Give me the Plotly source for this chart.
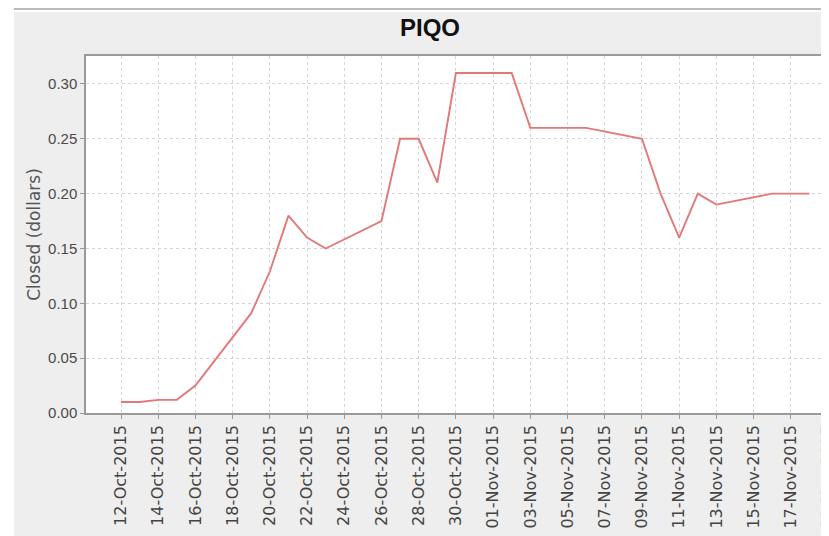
import plotly.graph_objects as go

# ---- data ----
dates = ["2015-10-12", "2015-10-13", "2015-10-14", "2015-10-15", "2015-10-16",
         "2015-10-19", "2015-10-20", "2015-10-21", "2015-10-22", "2015-10-23",
         "2015-10-26", "2015-10-27", "2015-10-28", "2015-10-29", "2015-10-30",
         "2015-11-02", "2015-11-03", "2015-11-04", "2015-11-05", "2015-11-06",
         "2015-11-09", "2015-11-10", "2015-11-11", "2015-11-12", "2015-11-13",
         "2015-11-16", "2015-11-17", "2015-11-18"]
closes = [0.010, 0.010, 0.012, 0.012, 0.025,
          0.091, 0.129, 0.180, 0.160, 0.150,
          0.175, 0.250, 0.250, 0.210, 0.310,
          0.310, 0.260, 0.260, 0.260, 0.260,
          0.250, 0.200, 0.160, 0.200, 0.190,
          0.200, 0.200, 0.200]
title_text = "PIQO"
y_title = "Closed (dollars)"
x_range = ["2015-10-10 02:51", "2015-11-19 21:56"]
y_range = [0, 0.3255]
y_ticks = [0.00, 0.05, 0.10, 0.15, 0.20, 0.25, 0.30]

# ---- layout geometry ----
# the page body has an 8px margin, so the figure starts at page (8, 8)
OFF = 8
FW, FH = 837, 528
L, R, T, B = 86 - OFF, 0, 56 - OFF, 123
PW, PH = FW - L - R, FH - T - B


def px(page_x):
    return (page_x - OFF - L) / PW


def py(page_y):
    return (FH - B - (page_y - OFF)) / PH


fig = go.Figure()
fig.add_trace(go.Scatter(
    x=dates, y=closes, mode="lines",
    line=dict(color="#e37878", width=1.9),
    showlegend=False, hoverinfo="x+y",
))

shapes = [
    # white strips on top and left
    dict(type="rect", xref="paper", yref="paper", x0=px(0), x1=px(FW + 20), y0=py(12), y1=py(0),
         fillcolor="white", line=dict(width=0), layer="above"),
    dict(type="rect", xref="paper", yref="paper", x0=px(0), x1=px(14), y0=py(FH + 20), y1=py(0),
         fillcolor="white", line=dict(width=0), layer="above"),
    # table borders on top
    dict(type="line", xref="paper", yref="paper", x0=px(14), x1=px(FW + 20), y0=py(8.5), y1=py(8.5),
         line=dict(color="#bbbbbb", width=3), layer="above"),
    dict(type="line", xref="paper", yref="paper", x0=px(15), x1=px(15), y0=py(0), y1=py(10),
         line=dict(color="#bbbbbb", width=2.5), layer="above"),
    dict(type="line", xref="paper", yref="paper", x0=px(623), x1=px(623), y0=py(0), y1=py(10),
         line=dict(color="#bbbbbb", width=2.5), layer="above"),
]

fig.update_layout(
    width=FW, height=FH,
    template="none",
    paper_bgcolor="#eeeeee",
    plot_bgcolor="white",
    margin=dict(l=L, r=R, t=T, b=B, pad=0),
    title=dict(text=title_text, x=(430 - OFF) / FW, xref="container", xanchor="center",
               y=1 - (28 - OFF) / FH, yref="container", yanchor="middle",
               font=dict(family="Liberation Sans, Arial", size=24, color="#111111", weight="bold")),
    shapes=shapes,
    showlegend=False,
)

fig.update_xaxes(
    type="date", range=x_range, automargin=False,
    tick0="2015-10-12", dtick=2 * 86400000, tickformat="%d-%b-%Y",
    tickangle=-90, tickfont=dict(family="DejaVu Sans", size=16, color="#444444"),
    ticks="outside", ticklen=4, tickcolor="#999999",
    showgrid=True, gridcolor="#d6d6d6", griddash="3px,3px", gridwidth=1,
    showline=True, linecolor="#9a9a9a", linewidth=1.5, mirror=True,
    zeroline=False,
)
fig.update_yaxes(
    range=y_range, automargin=False,
    tickvals=y_ticks, tickformat=".2f",
    tickfont=dict(family="Liberation Sans, Arial", size=15, color="#4a4a4a"),
    ticks="outside", ticklen=4, tickcolor="#999999",
    showgrid=True, gridcolor="#d6d6d6", griddash="3px,3px", gridwidth=1,
    showline=True, linecolor="#9a9a9a", linewidth=1.5, mirror=False,
    zeroline=False,
    title=dict(text=y_title, standoff=3,
               font=dict(family="DejaVu Sans", size=17, color="#555555")),
)

fig.write_html("out.html")
